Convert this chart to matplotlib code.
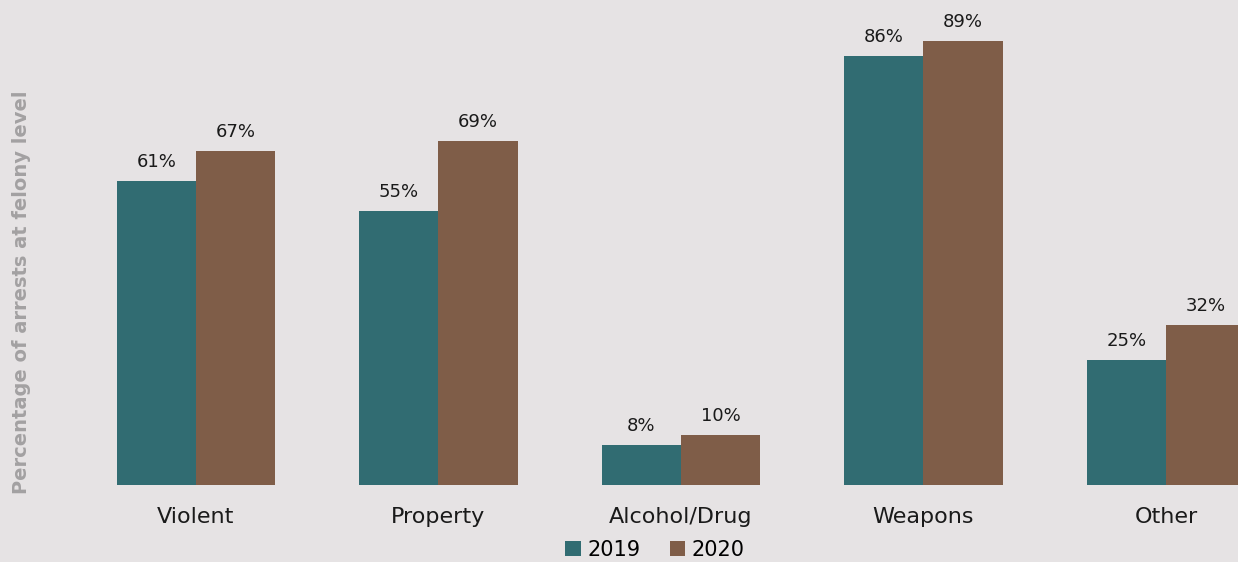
import matplotlib.pyplot as plt
import numpy as np

# Chart data
categories = ["Violent", "Property", "Alcohol/Drug", "Weapons", "Other"]
years = ["2019", "2020"]
pct_2019 = [61, 55, 8, 86, 25]
pct_2020 = [67, 69, 10, 89, 32]

bg = "#e6e3e4"
colors = ["#316c72", "#7f5d48"]

plt.rcParams['font.family'] = ['DejaVu Sans']

fig = plt.figure(figsize=(12.38, 5.62), dpi=100, facecolor=bg)
ax = fig.add_axes([0, 0.137, 1, 0.863])
ax.set_facecolor(bg)

x = np.arange(len(categories))
w = 0.326

b1 = ax.bar(x - w / 2, pct_2019, w, color=colors[0], label=years[0])
b2 = ax.bar(x + w / 2, pct_2020, w, color=colors[1], label=years[1])

# Value labels above bars
for bars in (b1, b2):
    for bar in bars:
        h = bar.get_height()
        ax.text(bar.get_x() + bar.get_width() / 2, h + 2.0, f"{h:.0f}%",
                ha="center", va="bottom", fontsize=13, color="#1a1a1a")

ax.set_xlim(-0.808, 4.297)
ax.set_ylim(0, 97.2)
ax.set_xticks(x)
ax.set_xticklabels(categories, fontsize=16, color="#1a1a1a")
ax.tick_params(axis="x", length=0, pad=16)
ax.set_yticks([])
for s in ax.spines.values():
    s.set_visible(False)

fig.text(0.017, 0.48, "Percentage of arrests at felony level", rotation=90,
         ha="center", va="center", fontsize=14, fontweight="bold", color="#a3a1a2")

fig.legend(loc="center", bbox_to_anchor=(0.529, 0.022), ncol=2, frameon=False,
           fontsize=15, handlelength=0.75, handleheight=0.75, handletextpad=0.3,
           columnspacing=1.4)

fig.savefig("out.png", dpi=100, facecolor=bg)
